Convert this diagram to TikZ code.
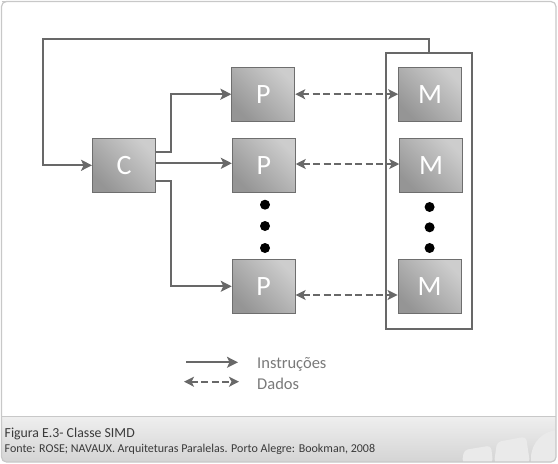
\documentclass[tikz,border=0pt]{standalone}
\usepackage{fontspec}
\setmainfont{Carlito}
\usetikzlibrary{arrows.meta,calc}
\definecolor{ln}{HTML}{686868}
\definecolor{boxedge}{HTML}{6E6E6E}
\definecolor{boxlight}{HTML}{CDCDCD}
\definecolor{boxdark}{HTML}{959595}
\definecolor{frame}{HTML}{C8C8C8}
\definecolor{bandtop}{HTML}{EFEFEF}
\definecolor{bandbot}{HTML}{D4D4D4}
\definecolor{deco}{HTML}{EAEAEA}
\definecolor{legtext}{HTML}{7A7A7A}
\definecolor{captext}{HTML}{3A3A3A}
\begin{document}
\begin{tikzpicture}[x=1pt,y=-1pt,
  unitbox/.style={draw=boxedge, line width=0.9pt, minimum width=63pt, minimum height=54pt,
    inner sep=0pt, top color=boxlight, bottom color=boxdark, shading angle=-45,
    text=white, font=\fontsize{28}{28}\selectfont},
  memframe/.style={draw=ln, line width=1.6pt, minimum width=86pt, minimum height=276pt, inner sep=0pt},
  instr/.style={draw=ln, line width=1.7pt, -{Stealth[length=11pt,width=11pt,inset=2.5pt]}},
  dados/.style={draw=ln, line width=1.7pt, dash pattern=on 7pt off 3.5pt,
    {Stealth[length=10pt,width=10pt,inset=2.5pt]}-{Stealth[length=10pt,width=10pt,inset=2.5pt]}},
  dotmark/.style={circle, fill=black, minimum size=10pt, inner sep=0pt},
  legendtext/.style={anchor=west, text=legtext, font=\fontsize{16.5}{16.5}\selectfont, inner sep=0pt},
]
\useasboundingbox (0,0) rectangle (558,464);
% outer frame and caption band
\fill[white] (1.5,1.5) rectangle (556,462);
\begin{scope}
  \clip[rounded corners=5pt] (1.5,-10) rectangle (556,462);
  \fill[top color=bandtop, bottom color=bandbot] (1.5,416) rectangle (556,462);
  \fill[deco, rounded corners=4pt] (462,463) -- (464,450) -- (491,445.5) -- (493,463) -- cycle;
  \fill[deco, rounded corners=4pt] (494,463) -- (497,442) -- (526,436.5) -- (530,463) -- cycle;
  \fill[deco] (559,458) circle (28);
\end{scope}
\draw[frame, line width=1pt] (1.5,416) -- (556,416);
\draw[frame, line width=1.2pt, rounded corners=5pt] (1.5,1.5) -- (1.5,462) -- (556,462) -- (556,1.5) -- cycle;
\draw[frame, line width=1.2pt] (1.5,1.5) -- (30,1.5);

% caption
\node[anchor=base west, inner sep=0pt, text=captext, font=\fontsize{13.8}{13.8}\selectfont] (cap1) at (4.5,437) {Figura E.3- Classe SIMD};
\node[anchor=base west, inner sep=0pt, text=captext, font=\fontsize{12}{12}\selectfont] (cap2) at (4.5,452) {Fonte: ROSE; NAVAUX. Arquiteturas Paralelas. Porto Alegre: Bookman, 2008};

% memory container
\node[memframe] (mem) at (429,190.7) {};

% boxes
\node[unitbox] (C) at (124,165.3) {C};
\node[unitbox] (P1) at (263.3,94.2) {P};
\node[unitbox] (P2) at (263.8,165.3) {P};
\node[unitbox] (P3) at (263.7,286.3) {P};
\node[unitbox] (M1) at (430.2,94.3) {M};
\node[unitbox] (M2) at (431.2,165.5) {M};
\node[unitbox] (M3) at (429.5,286.3) {M};

% dots
\node[dotmark] (pd1) at (265,204.7) {};
\node[dotmark] (pd2) at (265,226) {};
\node[dotmark] (pd3) at (265,248) {};
\node[dotmark] (md1) at (429.6,207) {};
\node[dotmark] (md2) at (429.6,227.3) {};
\node[dotmark] (md3) at (429.6,248) {};

% instruction connectors
\coordinate (kx) at (170.7,0);
\coordinate (c1) at (C.east |- 0,151.7);
\coordinate (c2) at (C.east |- 0,163.3);
\coordinate (c3) at (C.east |- 0,181);
\draw[instr] (c1) -- (c1 -| kx) |- (P1.west);
\draw[instr] (c2) -- (c2 -| P2.west);
\draw[instr] (c3) -- (c3 -| kx) |- (P3.west);
\coordinate (fbtop) at (0,39);
\coordinate (fbleft) at (43,0);
\draw[instr] (mem.north) -- (mem.north |- fbtop) -- (fbleft |- fbtop) -- (fbleft |- C.west) -- (C.west);

% data connectors
\draw[dados] (P1.east) -- (P1.east -| M1.west);
\draw[dados] (P2.east |- 0,164) -- (M2.west |- 0,164);
\draw[dados] (P3.east |- 0,295) -- (M3.west |- 0,295);

% legend
\coordinate (li1) at (186,362.3);
\coordinate (li2) at (238,362.3);
\coordinate (ld1) at (184,381.7);
\coordinate (ld2) at (239,381.7);
\draw[instr] (li1) -- (li2);
\draw[dados] (ld1) -- (ld2);
\node[legendtext] (lt1) at (257,364) {Instruções};
\node[legendtext] (lt2) at (257,384) {Dados};
\end{tikzpicture}
\end{document}
